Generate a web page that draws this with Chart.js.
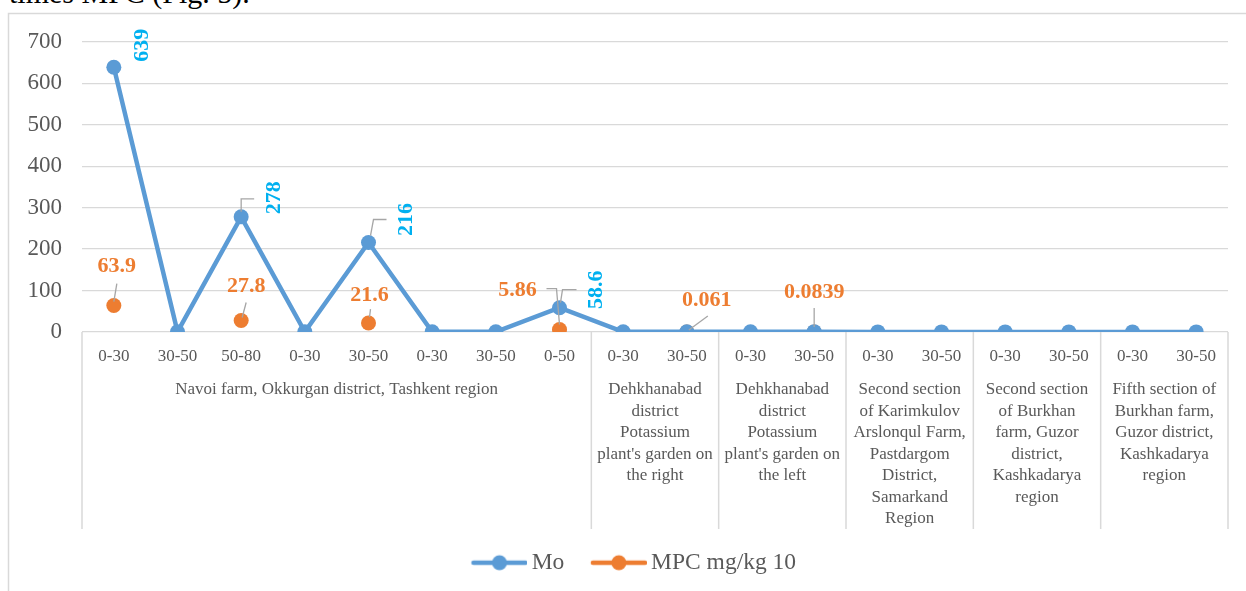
<!DOCTYPE html>
<html>
<head>
<meta charset="utf-8">
<script src="https://cdn.jsdelivr.net/npm/chart.js@4.4.1/dist/chart.umd.min.js"></script>
<style>
  html, body { margin: 0; padding: 0; background: #fff; overflow: hidden; }
  #wrap { position: relative; width: 1246px; height: 591px; }
  #lead { position: absolute; left: 9px; top: -22px; font: 30px/1 "Liberation Serif", serif; color: #000; white-space: nowrap; }
  #c { position: absolute; left: 0; top: 0; }
</style>
</head>
<body>
<div id="wrap">
  <div id="lead">times MPC (Fig. 5).</div>
  <canvas id="c" width="1246" height="591"></canvas>
</div>
<script>
// Sampling depths (cm), one per point
const depthLabels = ['0-30', '30-50', '50-80', '0-30', '30-50', '0-30', '30-50', '0-50',
  '0-30', '30-50', '0-30', '30-50', '0-30', '30-50', '0-30', '30-50', '0-30', '30-50'];

// Mo content, mg/kg
const moValues = [639, 0.4, 278, 0.5, 216, 0.6, 0.5, 58.6,
  0.4, 0.61, 0.5, 0.839, 0.3, 0.3, 0.3, 0.3, 0.3, 0.3];

// Multiples of MPC (10 mg/kg)
const mpcValues = [63.9, null, 27.8, null, 21.6, null, null, 5.86,
  null, 0.061, null, 0.0839, null, null, null, null, null, null];

// Sampling sites, each spanning a run of depths
const groupNames = [
  ['Navoi farm, Okkurgan district, Tashkent region'],
  ['Dehkhanabad', 'district', 'Potassium', "plant's garden on", 'the right'],
  ['Dehkhanabad', 'district', 'Potassium', "plant's garden on", 'the left'],
  ['Second section', 'of Karimkulov', 'Arslonqul Farm,', 'Pastdargom', 'District,', 'Samarkand', 'Region'],
  ['Second section', 'of Burkhan', 'farm, Guzor', 'district,', 'Kashkadarya', 'region'],
  ['Fifth section of', 'Burkhan farm,', 'Guzor district,', 'Kashkadarya', 'region']
];
const groupSizes = [8, 2, 2, 2, 2, 2];

// Axis ticks
const yMin = 0, yMax = 700, yStep = 100;

// Points that carry a value label
const moLabelIdx = [0, 2, 4, 7];
const mpcLabelIdx = [0, 2, 4, 7, 9, 11];

const SERIF = '"Liberation Serif", "Times New Roman", serif';
const TEXT = '#595959';
const GRID = '#D9D9D9';
const BLUE = '#5B9BD5';
const ORANGE = '#ED7D31';
const CYAN = '#00B0F0';

// Label placement relative to the point: centre offset and leader path
const moLabelStyle = {
  0: { dx: 27, dy: -22, leader: null },
  2: { dx: 32, dy: -19, leader: [[0, -5], [0, -18], [13, -18]] },
  4: { dx: 37, dy: -23, leader: [[2, -7], [5, -23], [18, -23]] },
  7: { dx: 36, dy: -18, leader: [[1, -5], [3, -18], [17, -18]] }
};
const mpcLabelStyle = {
  0: { dx: 3, dy: -40, leader: [[0, -4], [3, -22]] },
  2: { dx: 5, dy: -35, leader: [[1, -3], [5, -18]] },
  4: { dx: 1, dy: -29, leader: [[1, -6], [2, -14]] },
  7: { dx: -42, dy: -40, leader: [[0, -5], [-3, -41], [-13, -41]] },
  9: { dx: 20, dy: -33, leader: [[2, -2], [21, -16]] },
  11: { dx: 0, dy: -41, leader: [[0, -5], [0, -24]] }
};

// Legend swatch: line with a centred marker
function legendSwatch(color) {
  const c = document.createElement('canvas');
  const W = 80, H = 18, seg = 56;
  c.width = W; c.height = H;
  const g = c.getContext('2d');
  g.strokeStyle = color; g.lineWidth = 4.5; g.lineCap = 'round';
  g.beginPath(); g.moveTo(W - seg + 2, H / 2); g.lineTo(W - 2, H / 2); g.stroke();
  g.fillStyle = color;
  g.beginPath(); g.arc(W - seg / 2, H / 2, 7.5, 0, Math.PI * 2); g.fill();
  return c;
}

const frame = {
  id: 'frame',
  beforeDraw(chart) {
    const ctx = chart.ctx;
    ctx.save();
    ctx.strokeStyle = GRID; ctx.lineWidth = 1.5;
    ctx.strokeRect(8.5, 13.5, chart.width + 40, chart.height + 40);
    ctx.restore();
  }
};

const siteAxis = {
  id: 'siteAxis',
  afterDraw(chart) {
    const ctx = chart.ctx, x = chart.scales.x, area = chart.chartArea;
    const half = (x.getPixelForValue(1) - x.getPixelForValue(0)) / 2;
    ctx.save();
    ctx.strokeStyle = GRID; ctx.lineWidth = 1.5;
    let start = 0;
    const bounds = [x.getPixelForValue(0) - half];
    groupSizes.forEach(n => { start += n; bounds.push(x.getPixelForValue(start - 1) + half); });
    bounds.forEach(b => {
      ctx.beginPath(); ctx.moveTo(b, area.bottom); ctx.lineTo(b, area.bottom + 197); ctx.stroke();
    });
    ctx.fillStyle = TEXT;
    ctx.font = '17px ' + SERIF;
    ctx.textAlign = 'center'; ctx.textBaseline = 'middle';
    groupNames.forEach((lines, i) => {
      const cx = (bounds[i] + bounds[i + 1]) / 2;
      lines.forEach((t, k) => ctx.fillText(t, cx, area.bottom + 58 + k * 21.5));
    });
    ctx.restore();
  }
};

function drawLeader(ctx, px, py, path) {
  if (!path) return;
  ctx.beginPath();
  path.forEach(([dx, dy], k) => k ? ctx.lineTo(px + dx, py + dy) : ctx.moveTo(px + dx, py + dy));
  ctx.stroke();
}

const valueLabels = {
  id: 'valueLabels',
  afterDatasetsDraw(chart) {
    const ctx = chart.ctx;
    ctx.save();
    ctx.font = 'bold 22px ' + SERIF;
    ctx.textAlign = 'center'; ctx.textBaseline = 'middle';
    ctx.strokeStyle = '#A6A6A6'; ctx.lineWidth = 1.3;
    const moMeta = chart.getDatasetMeta(0), mpcMeta = chart.getDatasetMeta(1);
    moLabelIdx.forEach(i => {
      const p = moMeta.data[i], s = moLabelStyle[i];
      drawLeader(ctx, p.x, p.y, s.leader);
      ctx.save();
      ctx.translate(p.x + s.dx, p.y + s.dy);
      ctx.rotate(-Math.PI / 2);
      ctx.fillStyle = CYAN;
      ctx.fillText(String(moValues[i]), 0, 1);
      ctx.restore();
    });
    mpcLabelIdx.forEach(i => {
      const p = mpcMeta.data[i], s = mpcLabelStyle[i];
      drawLeader(ctx, p.x, p.y, s.leader);
      ctx.fillStyle = ORANGE;
      ctx.fillText(String(mpcValues[i]), p.x + s.dx, p.y + s.dy + 1);
    });
    ctx.restore();
  }
};

const LEG_PAD_B = 6.5;
const AXIS_Y = 332;
const PAD_L = 23;

new Chart(document.getElementById('c'), {
  type: 'line',
  data: {
    labels: depthLabels,
    datasets: [
      {
        label: 'Mo', data: moValues,
        borderColor: BLUE, backgroundColor: BLUE, borderWidth: 4.5,
        pointRadius: 7.5, pointHoverRadius: 7.5, pointBackgroundColor: BLUE, pointBorderWidth: 0,
        tension: 0, pointStyle: 'circle'
      },
      {
        label: 'MPC mg/kg 10', data: mpcValues, showLine: false,
        borderColor: ORANGE, backgroundColor: ORANGE,
        pointRadius: 7.5, pointHoverRadius: 7.5, pointBackgroundColor: ORANGE, pointBorderWidth: 0,
        pointStyle: 'circle'
      }
    ]
  },
  options: {
    responsive: false, animation: false,
    layout: { padding: { left: PAD_L, right: 18, top: 42, bottom: LEG_PAD_B } },
    plugins: {
      tooltip: { enabled: false },
      legend: {
        position: 'bottom',
        labels: {
          font: { family: SERIF, size: 23.5 }, color: TEXT,
          usePointStyle: true, pointStyleWidth: 65, padding: 10,
          generateLabels(chart) {
            return chart.data.datasets.map((d, i) => ({
              text: d.label, pointStyle: legendSwatch(d.borderColor),
              fillStyle: d.borderColor, strokeStyle: d.borderColor, lineWidth: 0,
              fontColor: TEXT, hidden: false, datasetIndex: i
            }));
          }
        }
      }
    },
    scales: {
      x: {
        offset: true,
        grid: { display: false, drawTicks: false },
        border: { display: false },
        ticks: { autoSkip: false, maxRotation: 0, color: TEXT, font: { family: SERIF, size: 17 }, padding: 14 },
        afterFit(scale) {
          const legH = scale.chart.legend ? scale.chart.legend.height : 43;
          scale.height = scale.chart.height - AXIS_Y - LEG_PAD_B - legH;
        }
      },
      y: {
        min: yMin, max: yMax,
        grid: { color: GRID, lineWidth: 1.3, drawTicks: false },
        border: { display: false },
        ticks: { stepSize: yStep, color: TEXT, font: { family: SERIF, size: 23 }, padding: 20 },
        afterFit(scale) { scale.width = 82 - PAD_L; }
      }
    }
  },
  plugins: [frame, siteAxis, valueLabels]
});
</script>
</body>
</html>
